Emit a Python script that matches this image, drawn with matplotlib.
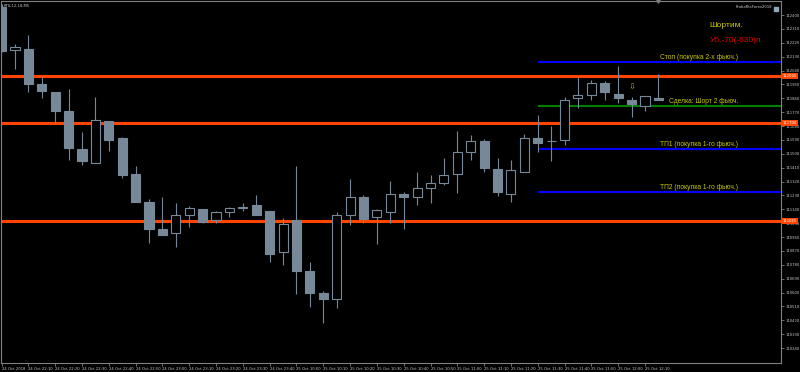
import numpy as np
import matplotlib
matplotlib.use("Agg")
from matplotlib import pyplot as plt

# RTS-12.18, M5 bars (24 Oct 22:00 .. 25 Oct 12:15)
opens = [112450, 112170, 112180, 111950, 111900, 111780, 111530, 111440, 111710, 111600,
         111370, 111190, 111010, 110985, 111105, 111140, 111070, 111120, 111150, 111170,
         111130, 110860, 111070, 110740, 110600, 110560, 111100, 111220, 111090, 111120,
         111240, 111220, 111280, 111310, 111370, 111510, 111580, 111400, 111240, 111380,
         111600, 111580, 111590, 111860, 111880, 111960, 111890, 111850, 111810, 111860]
highs = [112470, 112210, 112270, 111995, 111900, 111920, 111640, 111870, 111710, 111610,
         111420, 111205, 111220, 111180, 111160, 111145, 111130, 111155, 111180, 111230,
         111130, 111085, 111420, 110800, 110610, 111120, 111335, 111230, 111140, 111325,
         111250, 111380, 111360, 111470, 111650, 111620, 111595, 111470, 111460, 111630,
         111750, 111680, 111870, 111995, 111980, 111970, 112070, 111870, 111875, 112015]
lows = [112160, 112050, 111900, 111860, 111695, 111460, 111425, 111440, 111520, 111340,
        111190, 110920, 110970, 110895, 111025, 111050, 111050, 111090, 111130, 111105,
        110800, 110780, 110590, 110505, 110400, 110500, 111040, 111050, 110915, 111050,
        111010, 111170, 111180, 111295, 111245, 111460, 111385, 111225, 111190, 111380,
        111510, 111455, 111560, 111800, 111850, 111850, 111830, 111740, 111780, 111850]
closes = [112165, 112190, 111950, 111910, 111780, 111540, 111450, 111720, 111590, 111365,
          111190, 111010, 110970, 111105, 111150, 111060, 111120, 111150, 111155, 111105,
          110850, 111045, 110740, 110600, 110560, 111105, 111220, 111075, 111135, 111240,
          111220, 111280, 111310, 111360, 111510, 111580, 111410, 111250, 111395, 111600,
          111570, 111580, 111850, 111880, 111960, 111900, 111860, 111820, 111875, 111850]

x_tick_bars = list(range(0, 50, 2))
x_tick_labels = ["24 Oct 2018", "24 Oct 22:10", "24 Oct 22:20", "24 Oct 22:30", "24 Oct 22:40",
                 "24 Oct 22:50", "24 Oct 23:00", "24 Oct 23:10", "24 Oct 23:20", "24 Oct 23:30",
                 "24 Oct 23:40", "25 Oct 10:00", "25 Oct 10:10", "25 Oct 10:20", "25 Oct 10:30",
                 "25 Oct 10:40", "25 Oct 10:50", "25 Oct 11:00", "25 Oct 11:10", "25 Oct 11:20",
                 "25 Oct 11:30", "25 Oct 11:40", "25 Oct 11:50", "25 Oct 12:00", "25 Oct 12:10"]
y_ticks = list(range(110240, 112401, 90))

# levels
orange_levels = [112005, 111700, 111065]
trade_start_bar = 40
trade_levels = [112095, 111810, 111530, 111250]
trade_colors = ["#0000ff", "#008000", "#0000ff", "#0000ff"]
trade_labels = ["Стоп (покупка 2-х фьюч.)", "Сделка: Шорт 2 фьюч.",
                "ТП1 (покупка 1-го фьюч.)", "ТП2 (покупка 1-го фьюч.)"]
signal_bar = 47

opens, highs, lows, closes = map(np.array, (opens, highs, lows, closes))
idx = np.arange(len(opens))
bull = closes >= opens

candle_col = "#778899"
axis_col = "#808080"
text_col = "#c8c8c8"
yellow = "#c8c800"
small = 2.7

fig = plt.figure(figsize=(8, 3.72), dpi=100, facecolor="black")
ax = fig.add_axes([1 / 800, 9 / 372, 780 / 800, 362 / 372])
ax.set_facecolor("black")
xmax = 58.15
ax.set_xlim(-0.045, xmax)
ax.set_ylim(110143, 112491)

for lvl in orange_levels:
    ax.axhline(lvl, color="#ff4500", lw=2.2, zorder=1)
    ax.text(1.002, lvl, f"{lvl}", transform=ax.get_yaxis_transform(), fontsize=small,
            color="white", va="center", ha="left",
            bbox=dict(boxstyle="square,pad=0.3", fc="#ff4500", ec="none"), clip_on=False,
            zorder=5)

for lvl, col, lab in zip(trade_levels, trade_colors, trade_labels):
    ax.hlines(lvl, trade_start_bar, xmax, color=col, lw=1.5, zorder=1)
    ax.text(54.95, lvl + 8, lab, color=yellow, fontsize=4.8, ha="right", va="bottom",
            family="Liberation Sans")

# candles
ax.vlines(idx, lows, highs, color=candle_col, lw=0.8, zorder=2)
body_lo = np.minimum(opens, closes)
body_h = np.abs(closes - opens)
ax.bar(idx[~bull], body_h[~bull], bottom=body_lo[~bull], width=0.68,
       color=candle_col, edgecolor=candle_col, lw=0.8, zorder=3)
ax.bar(idx[bull], body_h[bull], bottom=body_lo[bull], width=0.68,
       color="black", edgecolor=candle_col, lw=0.8, zorder=3)

ax.text(signal_bar, highs[signal_bar] + 30, "⇩", color="#d4a017", fontsize=6,
        ha="center", va="bottom", family="DejaVu Sans")

ax.text(52.8, 112329, "Шортим.", color=yellow, fontsize=6, va="center",
        family="Liberation Sans")
ax.text(52.8, 112238, "Уб.-70(-630)п.", color="#e00000", fontsize=6, va="center",
        family="Liberation Sans")

ax.text(0.003, 0.992, "RTS-12.18,M5", transform=ax.transAxes, color=text_col,
        fontsize=small, va="top", ha="left")
ax.text(0.988, 0.988, "ProbaRtsForex2018", transform=ax.transAxes, color=text_col,
        fontsize=small, va="top", ha="right")
ax.plot([0.994], [0.978], marker="s", ms=2.5, color="#8fa8b8", transform=ax.transAxes,
        clip_on=False)
ax.plot([49], [1.0], marker="v", ms=2.5, color=axis_col, transform=ax.get_xaxis_transform(),
        clip_on=False)

ax.yaxis.tick_right()
ax.set_yticks(y_ticks)
ax.set_yticklabels([str(v) for v in y_ticks])
ax.set_xticks(x_tick_bars)
ax.set_xticklabels(x_tick_labels, ha="left")
ax.tick_params(axis="both", colors=axis_col, labelcolor=text_col, labelsize=small,
               length=2, width=0.6, pad=1)
for sp in ax.spines.values():
    sp.set_color(axis_col)
    sp.set_linewidth(0.8)

fig.savefig("out.png", dpi=100, facecolor="black")
